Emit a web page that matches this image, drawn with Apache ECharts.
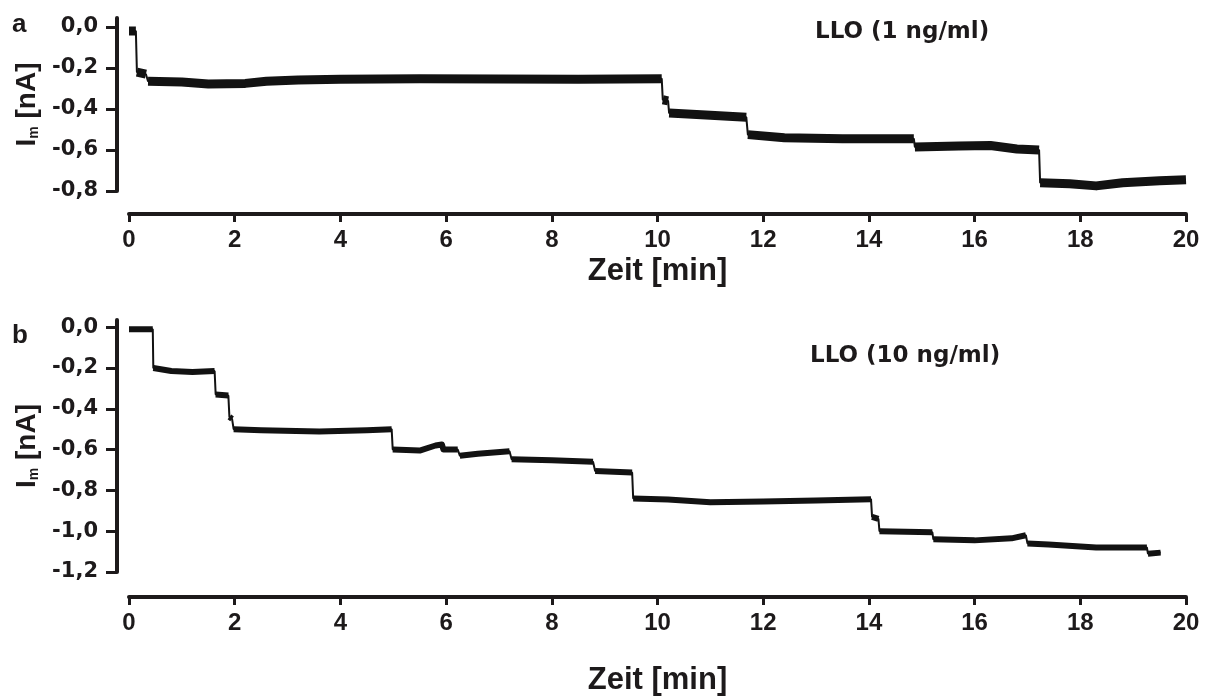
<!DOCTYPE html>
<html>
<head>
<meta charset="utf-8">
<title>LLO Stromspuren</title>
<script src="https://cdn.jsdelivr.net/npm/echarts@6/dist/echarts.min.js"></script>
<style>
  html, body { margin: 0; padding: 0; background: #ffffff; }
  #chart { width: 1206px; height: 697px; }
</style>
</head>
<body>
<div id="chart"></div>
<script>
// Trace a: LLO 1 ng/ml — time [min] and membrane current [nA]
const timeA = [0.00, 0.13, 0.15, 0.32, 0.36, 1.0, 1.5, 2.2, 2.6, 3.2, 4.0, 5.5, 7.0, 8.5, 10.08,
  10.10, 10.20, 10.22, 11.0, 11.68, 11.71, 12.4, 13.5, 14.85, 14.87, 15.7, 16.3, 16.8, 17.22,
  17.24, 17.8, 18.3, 18.8, 19.5, 20.0];
const currentA = [-0.02, -0.02, -0.22, -0.23, -0.265, -0.268, -0.278, -0.275, -0.265, -0.258, -0.255, -0.252, -0.253, -0.255, -0.252,
  -0.355, -0.36, -0.42, -0.43, -0.44, -0.525, -0.54, -0.545, -0.545, -0.585, -0.58, -0.578, -0.595, -0.60,
  -0.76, -0.765, -0.775, -0.76, -0.75, -0.745];

// Trace b: LLO 10 ng/ml
const timeB = [0.00, 0.45, 0.46, 0.8, 1.2, 1.62, 1.64, 1.88, 1.90, 1.95, 1.98, 2.5, 3.6, 4.5, 4.97,
  4.99, 5.5, 5.8, 5.92, 5.95, 6.22, 6.26, 6.6, 7.2, 7.24, 8.0, 8.78, 8.82, 9.52,
  9.54, 10.2, 11.0, 12.0, 13.0, 14.04, 14.06, 14.18, 14.20, 15.2, 15.22, 16.0, 16.7, 16.97,
  17.0, 17.4, 18.3, 19.26, 19.28, 19.52];
const currentB = [-0.01, -0.01, -0.20, -0.215, -0.22, -0.215, -0.33, -0.335, -0.44, -0.45, -0.50, -0.505, -0.512, -0.505, -0.50,
  -0.60, -0.605, -0.58, -0.575, -0.60, -0.60, -0.63, -0.62, -0.608, -0.648, -0.652, -0.66, -0.705, -0.712,
  -0.84, -0.845, -0.858, -0.855, -0.85, -0.843, -0.93, -0.94, -1.00, -1.005, -1.04, -1.045, -1.035, -1.02,
  -1.06, -1.065, -1.08, -1.08, -1.11, -1.105];

const timeTicks = [0, 2, 4, 6, 8, 10, 12, 14, 16, 18, 20];
const currentTicksA = [-0.8, -0.6, -0.4, -0.2, 0.0];
const currentTicksB = [-1.2, -1.0, -0.8, -0.6, -0.4, -0.2, 0.0];
const labelA = 'LLO (1 ng/ml)';
const labelB = 'LLO (10 ng/ml)';
const xName = 'Zeit [min]';

const INK = '#1d1a1b';
const TRACE = '#121212';

function pairs(t, v) {
  return t.map((x, i) => [x, v[i]]);
}

// Plateau segments only: break the line wherever the current jumps in a step,
// so the noisy band is drawn thick while the steps stay thin.
function plateaus(t, v) {
  const out = [];
  for (let i = 0; i < t.length; i++) {
    if (i > 0 && t[i] - t[i - 1] < 0.05 && Math.abs(v[i] - v[i - 1]) > 0.03) {
      out.push([t[i], null]);
    }
    out.push([t[i], v[i]]);
  }
  return out;
}

const comma = v => v.toFixed(1).replace('.', ',');

function xAxisDef(gridIndex, offset, nameGap) {
  return {
    type: 'value', gridIndex, min: 0, max: 20, interval: 2, offset,
    axisLine: { show: true, onZero: false, lineStyle: { color: INK, width: 4 } },
    axisTick: { show: true, length: 8, lineStyle: { color: INK, width: 3 } },
    axisLabel: { color: INK, fontFamily: 'Liberation Sans', fontWeight: 'bold', fontSize: 24, margin: 14,
      customValues: timeTicks },
    splitLine: { show: false },
    name: xName, nameLocation: 'middle', nameGap,
    nameTextStyle: { color: INK, fontFamily: 'Liberation Sans', fontWeight: 'bold', fontSize: 31 }
  };
}

function yAxisDef(gridIndex, min, max, ticks) {
  return {
    type: 'value', gridIndex, min, max, offset: 12,
    axisLine: { show: true, onZero: false, lineStyle: { color: INK, width: 4 } },
    axisTick: { show: true, length: 11, lineStyle: { color: INK, width: 3 }, customValues: ticks },
    axisLabel: { color: INK, fontFamily: 'DejaVu Sans', fontWeight: 'bold', fontSize: 21, margin: 19,
      customValues: ticks, formatter: comma },
    splitLine: { show: false },
    name: '{main|I}{sub|m}{main| [nA]}', nameLocation: 'middle', nameGap: 67, nameRotate: 90,
    nameTextStyle: {
      color: INK,
      rich: {
        main: { fontFamily: 'Liberation Sans', fontWeight: 'bold', fontSize: 28, color: INK },
        sub: { fontFamily: 'Liberation Sans', fontWeight: 'bold', fontSize: 14, color: INK, verticalAlign: 'bottom' }
      }
    }
  };
}

function traceSeries(idx, t, v, bandWidth) {
  const common = {
    type: 'line', xAxisIndex: idx, yAxisIndex: idx, showSymbol: false, symbol: 'none',
    silent: true, animation: false
  };
  return [
    Object.assign({}, common, { data: pairs(t, v), lineStyle: { color: TRACE, width: 2 } }),
    Object.assign({}, common, { data: plateaus(t, v), connectNulls: false,
      lineStyle: { color: TRACE, width: bandWidth, cap: 'butt', join: 'round' } })
  ];
}

const titleFont = { fontFamily: 'Liberation Sans', fontWeight: 'bold', fontSize: 26, color: INK };
const noteFont = { fontFamily: 'DejaVu Sans', fontWeight: 'bold', fontSize: 23, color: INK };

const chart = echarts.init(document.getElementById('chart'), null, { renderer: 'canvas' });
chart.setOption({
  backgroundColor: '#ffffff',
  animation: false,
  title: [
    { text: 'a', left: 12, top: 12, padding: 0, textStyle: titleFont },
    { text: 'b', left: 12, top: 323, padding: 0, textStyle: titleFont },
    { text: labelA, left: 815, top: 21, padding: 0, textStyle: noteFont },
    { text: labelB, left: 810, top: 345, padding: 0, textStyle: noteFont }
  ],
  grid: [
    { left: 129, right: 20, top: 18, bottom: 506, containLabel: false, outerBoundsMode: 'none' },
    { left: 129, right: 20, top: 320, bottom: 125, containLabel: false, outerBoundsMode: 'none' }
  ],
  xAxis: [xAxisDef(0, 23, 42), xAxisDef(1, 25, 68)],
  yAxis: [yAxisDef(0, -0.8, 0.044, currentTicksA), yAxisDef(1, -1.2, 0.035, currentTicksB)],
  series: [
    ...traceSeries(0, timeA, currentA, 9),
    ...traceSeries(1, timeB, currentB, 6)
  ]
});
</script>
</body>
</html>
